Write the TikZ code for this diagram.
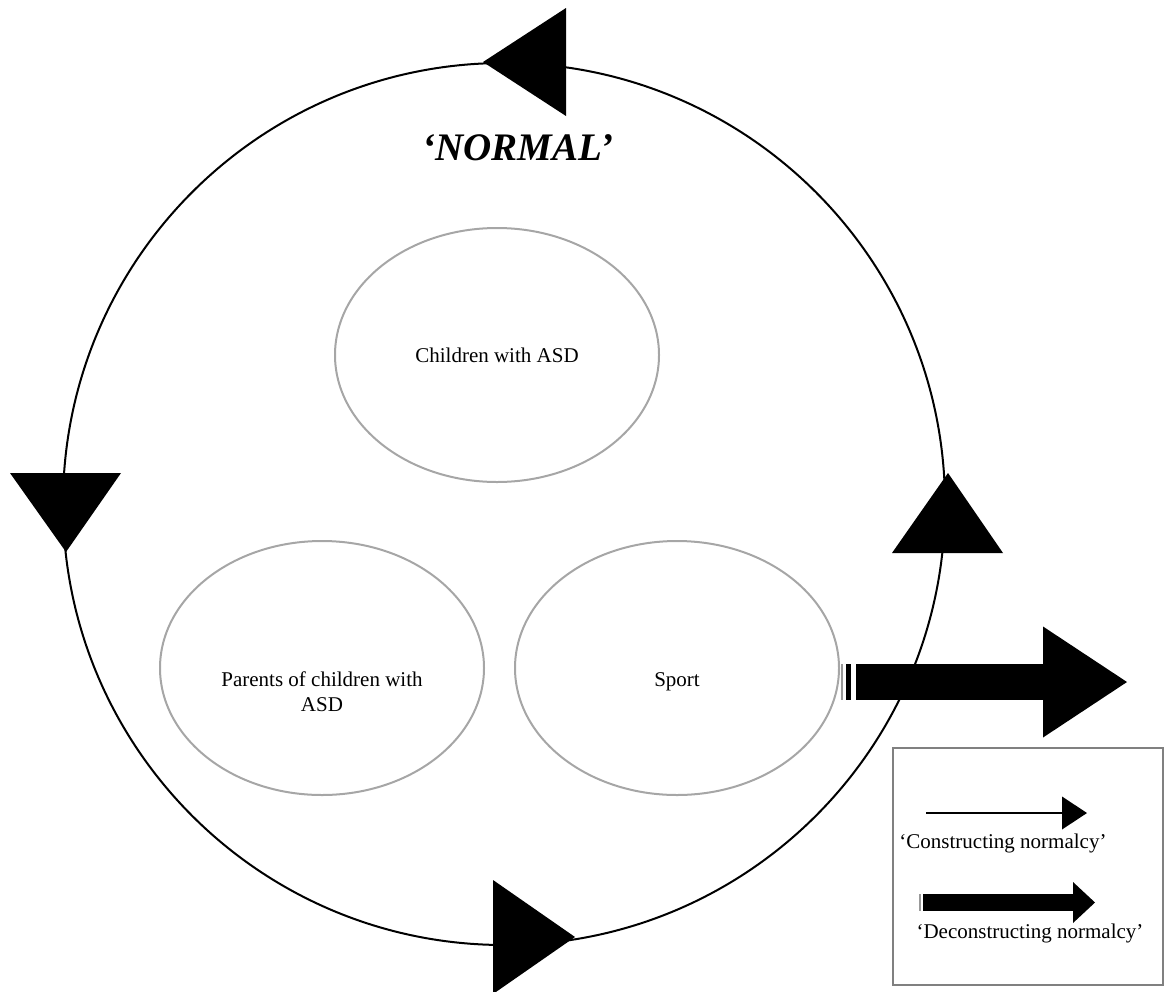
\documentclass[tikz,border=0pt]{standalone}
\usepackage{fontspec}
\setmainfont{Liberation Serif}
\usetikzlibrary{shapes.geometric,arrows.meta}

\begin{document}
\begin{tikzpicture}[x=0.5pt, y=-0.5pt,
    group/.style={draw=black!35, line width=1pt, ellipse, minimum width=162pt, minimum height=127pt, align=center, font=\fontsize{10.5}{12.5}\selectfont},
    grouptext/.style={align=center, font=\fontsize{10.5}{12.5}\selectfont},
    legendtext/.style={font=\fontsize{10.5}{12.5}\selectfont},
    buildarrow/.style={line width=1pt, -{Triangle[length=12.5pt, width=16.5pt, line width=0pt 0 0]}},
    breakarrow/.style 2 args={line cap=butt, -{Triangle[length=#1, width=#2, line width=0pt 0 0]}}]
  \useasboundingbox (0,0) rectangle (1167,991);

  % the cycle of normalcy
  \node[draw, circle, line width=1pt, minimum size=441pt] (normal) at (504,504) {};
  \node[font=\fontsize{19.5}{22}\bfseries\itshape\selectfont] (title) at (518,148) {`NORMAL'};

  \fill (483,62) -- (566,8) -- (566,116) -- cycle;
  \fill (10,473) -- (121,473) -- (66,552) -- cycle;
  \fill (948,473) -- (892,553) -- (1003,553) -- cycle;
  \fill (575,937) -- (493,880) -- (493,994) -- cycle;

  % the three groups
  \node[group] (asd) at (497,355) {Children with ASD};
  \node[group, label={[grouptext, yshift=-12pt]center:Parents of children with\\ASD}] (parents) at (322,668) {};
  \node[group, label={[grouptext, yshift=-7pt]center:Sport}] (sport) at (677,668) {};

  % way out
  \coordinate (tail) at (856,682);
  \coordinate (exit) at (1127,682);
  \fill[black!40] ([xshift=-7.5pt, yshift=9pt]tail) rectangle ([xshift=-6.5pt, yshift=-9pt]tail);
  \fill ([xshift=-5pt, yshift=9pt]tail) rectangle ([xshift=-2.5pt, yshift=-9pt]tail);
  \draw[breakarrow={42pt}{55.5pt}, line width=18pt] (tail) -- (exit);

  % legend
  \node[draw=black!50, line width=1pt, minimum width=135pt, minimum height=118.5pt] (legend) at (1028,866.5) {};
  \coordinate (c1) at (926,813);
  \coordinate (c2) at (1087,813);
  \draw[buildarrow] (c1) -- (c2);
  \node[legendtext] (ctext) at (1003,843) {`Constructing normalcy'};
  \coordinate (d1) at (923,902.5);
  \coordinate (d2) at (1095,902.5);
  \fill[black!40] ([xshift=-2pt, yshift=4.25pt]d1) rectangle ([xshift=-1.25pt, yshift=-4.25pt]d1);
  \draw[breakarrow={11pt}{20.5pt}, line width=8.5pt] (d1) -- (d2);
  \node[legendtext] (dtext) at (1030,933) {`Deconstructing normalcy'};
\end{tikzpicture}
\end{document}
